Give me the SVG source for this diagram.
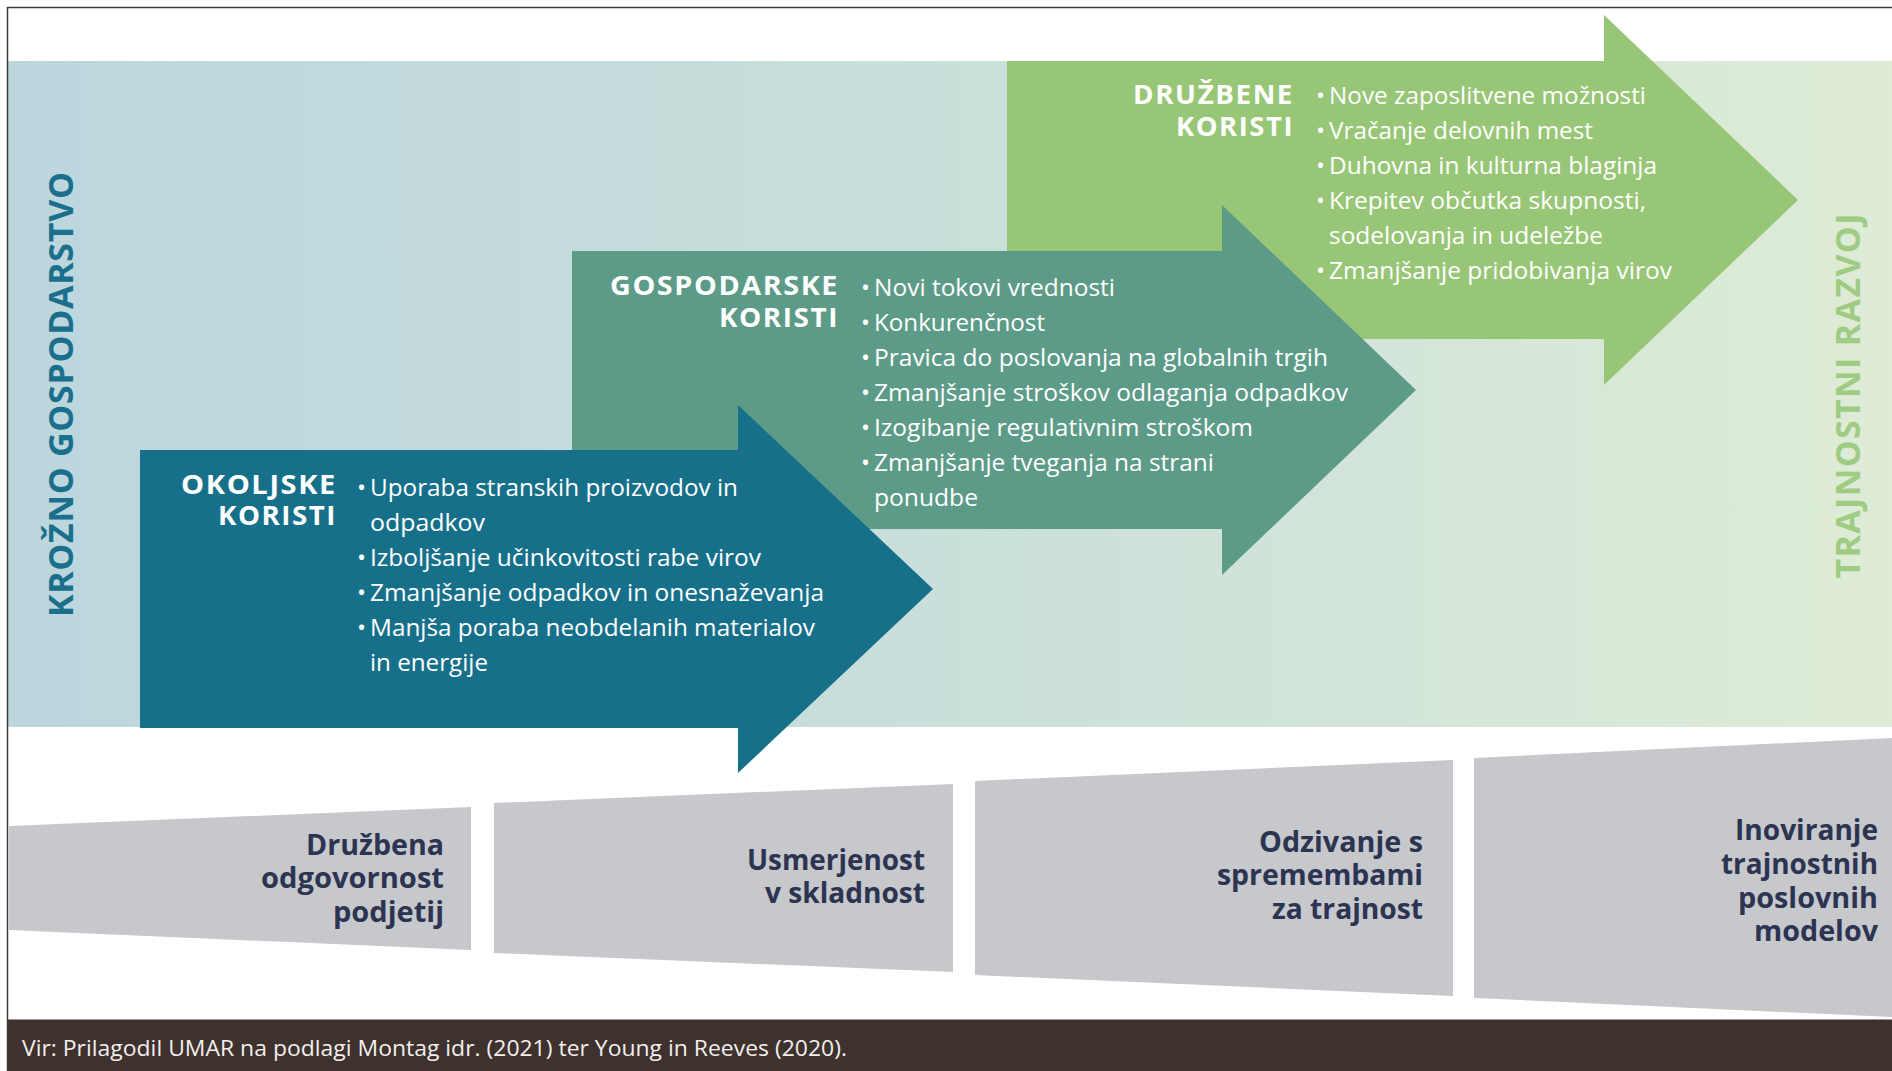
<svg xmlns="http://www.w3.org/2000/svg" width="1892" height="1071" viewBox="0 0 1892 1071">
<defs>
<linearGradient id="bandGrad" x1="0" y1="0" x2="1" y2="0">
<stop offset="0" stop-color="#BCD6DE"/>
<stop offset="0.5" stop-color="#C9DFDA"/>
<stop offset="1" stop-color="#DEECD6"/>
</linearGradient>
</defs>
<style>
.b{font-family:"Open Sans","Noto Sans","Liberation Sans",sans-serif;font-size:24px;fill:#FFFFFF}
.t{font-family:"Open Sans","Noto Sans","Liberation Sans",sans-serif;font-size:27px;font-weight:700;fill:#FFFFFF;text-anchor:end;letter-spacing:1.5px}
.g{font-family:"Open Sans","Noto Sans","Liberation Sans",sans-serif;font-size:28px;font-weight:700;fill:#2C3452;text-anchor:end}
.v{font-family:"Open Sans","Noto Sans","Liberation Sans",sans-serif;font-size:34px;font-weight:700;text-anchor:middle}
.grey{fill:#C6C8CC}
</style>
<rect x="0" y="0" width="1892" height="1071" fill="#FFFFFF"/>
<g id="band">
<rect x="8" y="61" width="1884" height="666" fill="url(#bandGrad)"/>
</g>
<g id="label-krozno">
<text class="v" fill="#1A708C" transform="translate(73,394.5) rotate(-90)" textLength="445" lengthAdjust="spacing">KROŽNO GOSPODARSTVO</text>
</g>
<g id="label-trajnostni">
<text class="v" fill="#9FCB82" transform="translate(1860,396) rotate(-90)" textLength="365" lengthAdjust="spacing">TRAJNOSTNI RAZVOJ</text>
</g>
<g id="arrow-druzbene">
<path d="M1007,61 H1604 V15 L1798,200 L1604,385 V339 H1007 Z" fill="#98C677"/>
<text class="t" x="1294" y="104" textLength="161" lengthAdjust="spacingAndGlyphs">DRUŽBENE</text>
<text class="t" x="1294" y="136" textLength="118" lengthAdjust="spacingAndGlyphs">KORISTI</text>
<text class="b"><tspan x="1316" y="104">•</tspan><tspan x="1329" y="104" textLength="317" lengthAdjust="spacingAndGlyphs">Nove zaposlitvene možnosti</tspan></text>
<text class="b"><tspan x="1316" y="139">•</tspan><tspan x="1329" y="139" textLength="264" lengthAdjust="spacingAndGlyphs">Vračanje delovnih mest</tspan></text>
<text class="b"><tspan x="1316" y="174">•</tspan><tspan x="1329" y="174" textLength="328" lengthAdjust="spacingAndGlyphs">Duhovna in kulturna blaginja</tspan></text>
<text class="b"><tspan x="1316" y="209">•</tspan><tspan x="1329" y="209" textLength="317" lengthAdjust="spacingAndGlyphs">Krepitev občutka skupnosti,</tspan></text>
<text class="b" x="1329" y="244" textLength="274" lengthAdjust="spacingAndGlyphs">sodelovanja in udeležbe</text>
<text class="b"><tspan x="1316" y="279">•</tspan><tspan x="1329" y="279" textLength="343" lengthAdjust="spacingAndGlyphs">Zmanjšanje pridobivanja virov</tspan></text>
</g>
<g id="arrow-gospodarske">
<path d="M572,251 H1222 V205 L1416,390 L1222,575 V529 H572 Z" fill="#5C9B87"/>
<text class="t" x="839" y="295" textLength="229" lengthAdjust="spacingAndGlyphs">GOSPODARSKE</text>
<text class="t" x="839" y="327" textLength="120" lengthAdjust="spacingAndGlyphs">KORISTI</text>
<text class="b"><tspan x="861" y="296">•</tspan><tspan x="874" y="296" textLength="241" lengthAdjust="spacingAndGlyphs">Novi tokovi vrednosti</tspan></text>
<text class="b"><tspan x="861" y="331">•</tspan><tspan x="874" y="331" textLength="171" lengthAdjust="spacingAndGlyphs">Konkurenčnost</tspan></text>
<text class="b"><tspan x="861" y="366">•</tspan><tspan x="874" y="366" textLength="454" lengthAdjust="spacingAndGlyphs">Pravica do poslovanja na globalnih trgih</tspan></text>
<text class="b"><tspan x="861" y="401">•</tspan><tspan x="874" y="401" textLength="474" lengthAdjust="spacingAndGlyphs">Zmanjšanje stroškov odlaganja odpadkov</tspan></text>
<text class="b"><tspan x="861" y="436">•</tspan><tspan x="874" y="436" textLength="379" lengthAdjust="spacingAndGlyphs">Izogibanje regulativnim stroškom</tspan></text>
<text class="b"><tspan x="861" y="471">•</tspan><tspan x="874" y="471" textLength="340" lengthAdjust="spacingAndGlyphs">Zmanjšanje tveganja na strani</tspan></text>
<text class="b" x="874" y="506" textLength="104" lengthAdjust="spacingAndGlyphs">ponudbe</text>
</g>
<g id="arrow-okoljske">
<path d="M140,450 H738 V405 L933,589 L738,773 V728 H140 Z" fill="#17708A"/>
<text class="t" x="337" y="494" textLength="156" lengthAdjust="spacingAndGlyphs">OKOLJSKE</text>
<text class="t" x="337" y="525" textLength="119" lengthAdjust="spacingAndGlyphs">KORISTI</text>
<text class="b"><tspan x="357" y="496">•</tspan><tspan x="370" y="496" textLength="368" lengthAdjust="spacingAndGlyphs">Uporaba stranskih proizvodov in</tspan></text>
<text class="b" x="370" y="531" textLength="115" lengthAdjust="spacingAndGlyphs">odpadkov</text>
<text class="b"><tspan x="357" y="566">•</tspan><tspan x="370" y="566" textLength="391" lengthAdjust="spacingAndGlyphs">Izboljšanje učinkovitosti rabe virov</tspan></text>
<text class="b"><tspan x="357" y="601">•</tspan><tspan x="370" y="601" textLength="454" lengthAdjust="spacingAndGlyphs">Zmanjšanje odpadkov in onesnaževanja</tspan></text>
<text class="b"><tspan x="357" y="636">•</tspan><tspan x="370" y="636" textLength="445" lengthAdjust="spacingAndGlyphs">Manjša poraba neobdelanih materialov</tspan></text>
<text class="b" x="370" y="671" textLength="118" lengthAdjust="spacingAndGlyphs">in energije</text>
</g>
<g id="stage-1">
<path class="grey" d="M9,826 L471,807 L471,950 L9,930 Z"/>
<text class="g" x="444" y="855" textLength="138" lengthAdjust="spacingAndGlyphs">Družbena</text>
<text class="g" x="444" y="888" textLength="183" lengthAdjust="spacingAndGlyphs">odgovornost</text>
<text class="g" x="444" y="922" textLength="111" lengthAdjust="spacingAndGlyphs">podjetij</text>
</g>
<g id="stage-2">
<path class="grey" d="M494,803 L953,784 L953,972 L494,953 Z"/>
<text class="g" x="925" y="870" textLength="178" lengthAdjust="spacingAndGlyphs">Usmerjenost</text>
<text class="g" x="925" y="903" textLength="160" lengthAdjust="spacingAndGlyphs">v skladnost</text>
</g>
<g id="stage-3">
<path class="grey" d="M975,781 L1453,760 L1453,996 L975,975 Z"/>
<text class="g" x="1423" y="852" textLength="164" lengthAdjust="spacingAndGlyphs">Odzivanje s</text>
<text class="g" x="1423" y="885" textLength="206" lengthAdjust="spacingAndGlyphs">spremembami</text>
<text class="g" x="1423" y="919" textLength="151" lengthAdjust="spacingAndGlyphs">za trajnost</text>
</g>
<g id="stage-4">
<path class="grey" d="M1474,758 L1892,738 L1892,1017 L1474,998 Z"/>
<text class="g" x="1878" y="840" textLength="143" lengthAdjust="spacingAndGlyphs">Inoviranje</text>
<text class="g" x="1878" y="874" textLength="157" lengthAdjust="spacingAndGlyphs">trajnostnih</text>
<text class="g" x="1878" y="908" textLength="140" lengthAdjust="spacingAndGlyphs">poslovnih</text>
<text class="g" x="1878" y="941" textLength="124" lengthAdjust="spacingAndGlyphs">modelov</text>
</g>
<g id="connectors"></g>
<g id="footer">
<rect x="8" y="1020" width="1884" height="51" fill="#3F312D"/>
<line x1="8" y1="1019.5" x2="1892" y2="1019.5" stroke="#A09896" stroke-width="1"/>
<text x="22" y="1056" font-family="'Open Sans','Noto Sans','Liberation Sans',sans-serif" font-size="21" fill="#F2EFEE" textLength="825" lengthAdjust="spacingAndGlyphs">Vir: Prilagodil UMAR na podlagi Montag idr. (2021) ter Young in Reeves (2020).</text>
</g>
<g id="frame">
<line x1="7" y1="7.5" x2="1892" y2="7.5" stroke="#3C3C3C" stroke-width="1.5"/>
<line x1="7.5" y1="7" x2="7.5" y2="1071" stroke="#3C3C3C" stroke-width="1.5"/>
</g>
</svg>
